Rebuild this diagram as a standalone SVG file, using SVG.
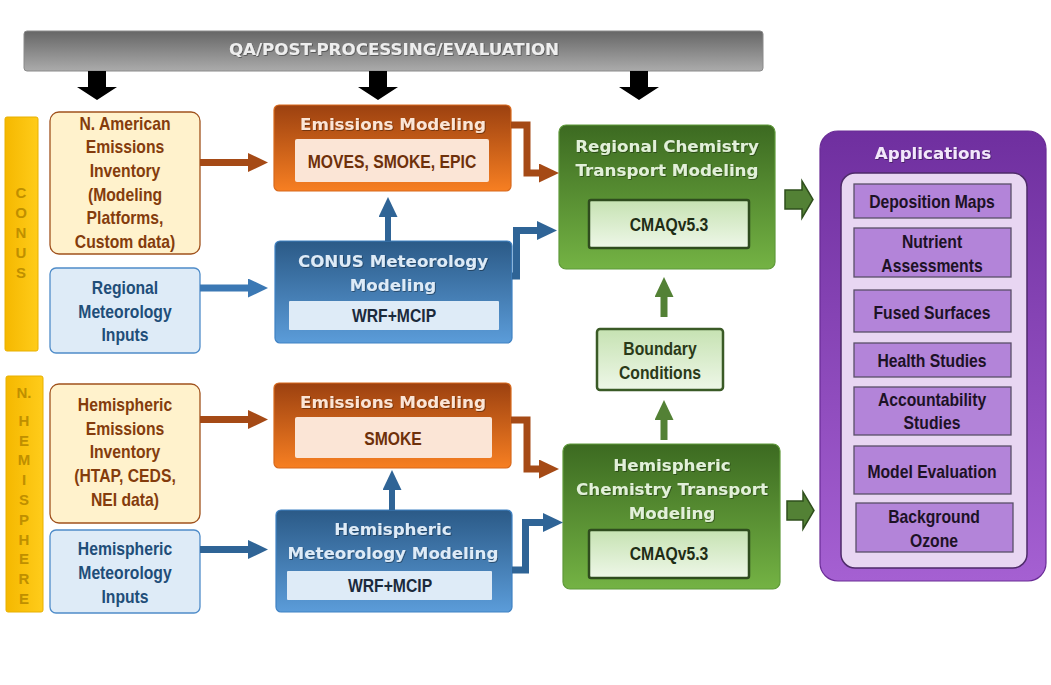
<svg xmlns="http://www.w3.org/2000/svg" width="1051" height="685" viewBox="0 0 1051 685">
<defs>
<linearGradient id="gGray" x1="0" y1="0" x2="0" y2="1"><stop offset="0" stop-color="#666"/><stop offset="1" stop-color="#ababab"/></linearGradient>
<linearGradient id="gGold" x1="0" y1="0" x2="1" y2="0"><stop offset="0" stop-color="#f5b800"/><stop offset="1" stop-color="#ffcc1a"/></linearGradient>
<linearGradient id="gOrange" x1="0" y1="0" x2="0" y2="1"><stop offset="0" stop-color="#9c4110"/><stop offset="1" stop-color="#f77f22"/></linearGradient>
<linearGradient id="gBlue" x1="0" y1="0" x2="0" y2="1"><stop offset="0" stop-color="#2b5a87"/><stop offset="1" stop-color="#5b9cd9"/></linearGradient>
<linearGradient id="gGreen" x1="0" y1="0" x2="0" y2="1"><stop offset="0" stop-color="#3c6a21"/><stop offset="1" stop-color="#74b344"/></linearGradient>
<linearGradient id="gLight" x1="0" y1="0" x2="0" y2="1"><stop offset="0" stop-color="#c6e2b2"/><stop offset="1" stop-color="#eef7e8"/></linearGradient>
<linearGradient id="gPurple" x1="0" y1="0" x2="0" y2="1"><stop offset="0" stop-color="#6f2f9f"/><stop offset="1" stop-color="#a560d2"/></linearGradient>
<filter id="sh" x="-10%" y="-30%" width="120%" height="160%"><feDropShadow dx="0.8" dy="0.8" stdDeviation="0.6" flood-color="#000" flood-opacity="0.45"/></filter>
<marker id="mBrown" markerUnits="userSpaceOnUse" markerWidth="20" markerHeight="20" refX="0" refY="9.5" orient="auto"><path d="M0,0 L20,9.5 L0,19 z" fill="#a54a16"/></marker>
<marker id="mBlue" markerUnits="userSpaceOnUse" markerWidth="20" markerHeight="20" refX="0" refY="9.5" orient="auto"><path d="M0,0 L20,9.5 L0,19 z" fill="#3b78b4"/></marker>
<marker id="mDBlue" markerUnits="userSpaceOnUse" markerWidth="20" markerHeight="20" refX="0" refY="9.5" orient="auto"><path d="M0,0 L20,9.5 L0,19 z" fill="#2f6496"/></marker>
<marker id="mGreen" markerUnits="userSpaceOnUse" markerWidth="20" markerHeight="20" refX="0" refY="9.5" orient="auto"><path d="M0,0 L20,9.5 L0,19 z" fill="#538135"/></marker>
</defs>
<style>
.title{font-family:"DejaVu Sans",Verdana,sans-serif;font-weight:bold;font-size:16.7px;text-anchor:middle;}
.cond{font-family:"Liberation Sans",Arial,sans-serif;font-weight:bold;font-size:18.5px;text-anchor:middle;}
.bar{font-family:"Liberation Sans",Arial,sans-serif;font-weight:bold;font-size:15px;text-anchor:middle;fill:#bf8f00;}
.brownT{fill:#843c0c;}
.blueT{fill:#1f4e79;}
.conn{fill:none;stroke-linejoin:miter;}
</style>
<rect width="1051" height="685" fill="#fff"/>

<g id="qa-bar">
<rect x="24" y="31" width="739" height="40" rx="3" fill="url(#gGray)" stroke="#8a8a8a" stroke-width="1"/>
<text class="title" x="394" y="55" fill="#eeeeee" filter="url(#sh)">QA/POST-PROCESSING/EVALUATION</text>
<polygon points="88,71 106,71 106,87 117,87 97,100 77,87 88,87" fill="#000"/>
<polygon points="369,71 387,71 387,87 398,87 378,100 358,87 369,87" fill="#000"/>
<polygon points="630,71 648,71 648,87 659,87 639,100 619,87 630,87" fill="#000"/>
</g>

<g id="conus-label">
<rect x="5" y="117" width="33" height="234" rx="2" fill="url(#gGold)" stroke="#e8b000" stroke-width="1"/>
<text class="bar" x="21"><tspan x="21" y="197.5">C</tspan><tspan x="21" y="217.5">O</tspan><tspan x="21" y="237.5">N</tspan><tspan x="21" y="257.5">U</tspan><tspan x="21" y="277.5">S</tspan></text>
</g>

<g id="hemisphere-label">
<rect x="6" y="376" width="37" height="236" rx="2" fill="url(#gGold)" stroke="#e8b000" stroke-width="1"/>
<text class="bar" x="24"><tspan x="24" y="397.5">N.</tspan><tspan x="24" y="425.5">H</tspan><tspan x="24" y="445.5">E</tspan><tspan x="24" y="465">M</tspan><tspan x="24" y="485">I</tspan><tspan x="24" y="505">S</tspan><tspan x="24" y="524.5">P</tspan><tspan x="24" y="544.5">H</tspan><tspan x="24" y="564">E</tspan><tspan x="24" y="584">R</tspan><tspan x="24" y="603.5">E</tspan></text>
</g>

<g id="na-emissions-inventory">
<rect x="50" y="112" width="150" height="142" rx="9" fill="#fff2cc" stroke="#a0521d" stroke-width="1.3"/>
<text class="cond brownT" transform="translate(125 0) scale(0.85 1)"><tspan x="0" y="130">N. American</tspan><tspan x="0" y="153.5">Emissions</tspan><tspan x="0" y="177">Inventory</tspan><tspan x="0" y="201">(Modeling</tspan><tspan x="0" y="224.5">Platforms,</tspan><tspan x="0" y="248">Custom data)</tspan></text>
</g>

<g id="regional-met-inputs">
<rect x="50" y="268" width="150" height="85" rx="6" fill="#deebf7" stroke="#4f8cc9" stroke-width="1.3"/>
<text class="cond blueT" transform="translate(125 0) scale(0.85 1)"><tspan x="0" y="294.5">Regional</tspan><tspan x="0" y="318">Meteorology</tspan><tspan x="0" y="341.5">Inputs</tspan></text>
</g>

<g id="hemi-emissions-inventory">
<rect x="50" y="384" width="150" height="139" rx="9" fill="#fff2cc" stroke="#a0521d" stroke-width="1.3"/>
<text class="cond brownT" transform="translate(125 0) scale(0.85 1)"><tspan x="0" y="411.5">Hemispheric</tspan><tspan x="0" y="435">Emissions</tspan><tspan x="0" y="458.5">Inventory</tspan><tspan x="0" y="482.5">(HTAP, CEDS,</tspan><tspan x="0" y="506">NEI data)</tspan></text>
</g>

<g id="hemi-met-inputs">
<rect x="50" y="530" width="150" height="83" rx="6" fill="#deebf7" stroke="#4f8cc9" stroke-width="1.3"/>
<text class="cond blueT" transform="translate(125 0) scale(0.85 1)"><tspan x="0" y="555.5">Hemispheric</tspan><tspan x="0" y="579">Meteorology</tspan><tspan x="0" y="603">Inputs</tspan></text>
</g>

<g id="conus-emissions-modeling">
<rect x="274" y="105" width="237" height="86" rx="5" fill="url(#gOrange)" stroke="#d8691c" stroke-width="1.2"/>
<text class="title" x="393" y="130" fill="#fbe5d6" filter="url(#sh)">Emissions Modeling</text>
<rect x="295" y="139" width="194" height="43" rx="2" fill="#fbe5d6"/>
<text class="cond" transform="translate(392 0) scale(0.85 1)" fill="#6e300a"><tspan x="0" y="168.5">MOVES, SMOKE, EPIC</tspan></text>
</g>

<g id="conus-met-modeling">
<rect x="275" y="241" width="237" height="102" rx="5" fill="url(#gBlue)" stroke="#3f82c4" stroke-width="1.2"/>
<text class="title" fill="#deebf7" filter="url(#sh)"><tspan x="393" y="267">CONUS Meteorology</tspan><tspan x="393" y="291">Modeling</tspan></text>
<rect x="289" y="301" width="210" height="29" rx="1" fill="#deebf7"/>
<text class="cond" transform="translate(394 0) scale(0.85 1)" fill="#1b2a3c"><tspan x="0" y="322.5">WRF+MCIP</tspan></text>
</g>

<g id="hemi-emissions-modeling">
<rect x="274" y="383" width="237" height="85" rx="5" fill="url(#gOrange)" stroke="#d8691c" stroke-width="1.2"/>
<text class="title" x="393" y="408" fill="#fbe5d6" filter="url(#sh)">Emissions Modeling</text>
<rect x="295" y="417" width="197" height="41" rx="2" fill="#fbe5d6"/>
<text class="cond" transform="translate(393 0) scale(0.85 1)" fill="#6e300a"><tspan x="0" y="445.5">SMOKE</tspan></text>
</g>

<g id="hemi-met-modeling">
<rect x="276" y="510" width="236" height="102" rx="5" fill="url(#gBlue)" stroke="#3f82c4" stroke-width="1.2"/>
<text class="title" fill="#deebf7" filter="url(#sh)"><tspan x="393" y="535">Hemispheric</tspan><tspan x="393" y="559">Meteorology Modeling</tspan></text>
<rect x="287" y="571" width="205" height="29" rx="1" fill="#deebf7"/>
<text class="cond" transform="translate(390 0) scale(0.85 1)" fill="#1b2a3c"><tspan x="0" y="592.5">WRF+MCIP</tspan></text>
</g>

<g id="regional-ctm">
<rect x="559" y="125" width="216" height="144" rx="7" fill="url(#gGreen)" stroke="#5f9a3a" stroke-width="1.2"/>
<text class="title" fill="#e2f0d9" filter="url(#sh)"><tspan x="667" y="152">Regional Chemistry</tspan><tspan x="667" y="176">Transport Modeling</tspan></text>
<rect x="589" y="200" width="160" height="48" rx="2" fill="url(#gLight)" stroke="#2f4c1e" stroke-width="2.5"/>
<text class="cond" transform="translate(669 0) scale(0.85 1)" fill="#1f2d16"><tspan x="0" y="231.5">CMAQv5.3</tspan></text>
</g>

<g id="boundary-conditions">
<rect x="597" y="329" width="126" height="61" rx="3" fill="url(#gLight)" stroke="#3a5a26" stroke-width="2.5"/>
<text class="cond" transform="translate(660 0) scale(0.85 1)" fill="#2a3a18"><tspan x="0" y="355.5">Boundary</tspan><tspan x="0" y="379.5">Conditions</tspan></text>
</g>

<g id="hemi-ctm">
<rect x="563" y="444" width="217" height="145" rx="7" fill="url(#gGreen)" stroke="#5f9a3a" stroke-width="1.2"/>
<text class="title" fill="#e2f0d9" filter="url(#sh)"><tspan x="672" y="471">Hemispheric</tspan><tspan x="672" y="495">Chemistry Transport</tspan><tspan x="672" y="519">Modeling</tspan></text>
<rect x="589" y="530" width="160" height="48" rx="2" fill="url(#gLight)" stroke="#2f4c1e" stroke-width="2.5"/>
<text class="cond" transform="translate(669 0) scale(0.85 1)" fill="#1f2d16"><tspan x="0" y="560.5">CMAQv5.3</tspan></text>
</g>

<g id="applications">
<rect x="820" y="131" width="226" height="450" rx="18" fill="url(#gPurple)" stroke="#6a2c96" stroke-width="1.2"/>
<text class="title" x="933" y="159" fill="#f2e8fa" filter="url(#sh)">Applications</text>
<rect x="841" y="173" width="186" height="395" rx="14" fill="#e8d6f2" stroke="#4e2a6a" stroke-width="1.5"/>
<g id="app-deposition-maps"><rect x="854" y="184" width="157" height="34" fill="#b384d9" stroke="#5a4f68" stroke-width="1.3"/><text class="cond" transform="translate(932 0) scale(0.85 1)" fill="#1d1226"><tspan x="0" y="208.5">Deposition Maps</tspan></text></g>
<g id="app-nutrient"><rect x="854" y="228" width="157" height="49" fill="#b384d9" stroke="#5a4f68" stroke-width="1.3"/><text class="cond" transform="translate(932 0) scale(0.85 1)" fill="#1d1226"><tspan x="0" y="248.5">Nutrient</tspan><tspan x="0" y="272.5">Assessments</tspan></text></g>
<g id="app-fused"><rect x="854" y="290" width="157" height="42" fill="#b384d9" stroke="#5a4f68" stroke-width="1.3"/><text class="cond" transform="translate(932 0) scale(0.85 1)" fill="#1d1226"><tspan x="0" y="319.5">Fused Surfaces</tspan></text></g>
<g id="app-health"><rect x="854" y="343" width="157" height="34" fill="#b384d9" stroke="#5a4f68" stroke-width="1.3"/><text class="cond" transform="translate(932 0) scale(0.85 1)" fill="#1d1226"><tspan x="0" y="367.5">Health Studies</tspan></text></g>
<g id="app-accountability"><rect x="854" y="387" width="157" height="48" fill="#b384d9" stroke="#5a4f68" stroke-width="1.3"/><text class="cond" transform="translate(932 0) scale(0.85 1)" fill="#1d1226"><tspan x="0" y="406.5">Accountability</tspan><tspan x="0" y="429.5">Studies</tspan></text></g>
<g id="app-model-eval"><rect x="854" y="446" width="157" height="48" fill="#b384d9" stroke="#5a4f68" stroke-width="1.3"/><text class="cond" transform="translate(932 0) scale(0.85 1)" fill="#1d1226"><tspan x="0" y="478.5">Model Evaluation</tspan></text></g>
<g id="app-background-ozone"><rect x="856" y="503" width="157" height="49" fill="#b384d9" stroke="#5a4f68" stroke-width="1.3"/><text class="cond" transform="translate(934 0) scale(0.85 1)" fill="#1d1226"><tspan x="0" y="523.5">Background</tspan><tspan x="0" y="547.5">Ozone</tspan></text></g>
</g>

<g id="connectors">
<path class="conn" d="M200,162.5 H248" stroke="#a54a16" stroke-width="7" marker-end="url(#mBrown)"/>
<path class="conn" d="M200,288 H248" stroke="#3b78b4" stroke-width="7" marker-end="url(#mBlue)"/>
<path class="conn" d="M200,419.5 H248" stroke="#a54a16" stroke-width="7" marker-end="url(#mBrown)"/>
<path class="conn" d="M200,549.5 H248" stroke="#2f6496" stroke-width="7" marker-end="url(#mDBlue)"/>
<path class="conn" d="M388,241 V217" stroke="#2f6496" stroke-width="6" marker-end="url(#mDBlue)"/>
<path class="conn" d="M392,510 V490" stroke="#2f6496" stroke-width="6" marker-end="url(#mDBlue)"/>
<path class="conn" d="M511,125 H527 V173 H539" stroke="#a54a16" stroke-width="7" marker-end="url(#mBrown)"/>
<path class="conn" d="M512,276 H516.5 V230.5 H537" stroke="#2f6496" stroke-width="7" marker-end="url(#mDBlue)"/>
<path class="conn" d="M511,420 H527 V469 H539" stroke="#a54a16" stroke-width="7" marker-end="url(#mBrown)"/>
<path class="conn" d="M512,570 H525.5 V522.5 H543" stroke="#2f6496" stroke-width="7" marker-end="url(#mDBlue)"/>
<path class="conn" d="M664,317 V297" stroke="#538135" stroke-width="7" marker-end="url(#mGreen)"/>
<path class="conn" d="M664,440 V420" stroke="#538135" stroke-width="7" marker-end="url(#mGreen)"/>
<polygon points="785,190 802,190 802,181 813,199.5 802,218 802,209 785,209" fill="#538135" stroke="#2f4f1c" stroke-width="1.5"/>
<polygon points="787,501 803,501 803,492 814,510.5 803,529 803,520 787,520" fill="#538135" stroke="#2f4f1c" stroke-width="1.5"/>
</g>
</svg>
